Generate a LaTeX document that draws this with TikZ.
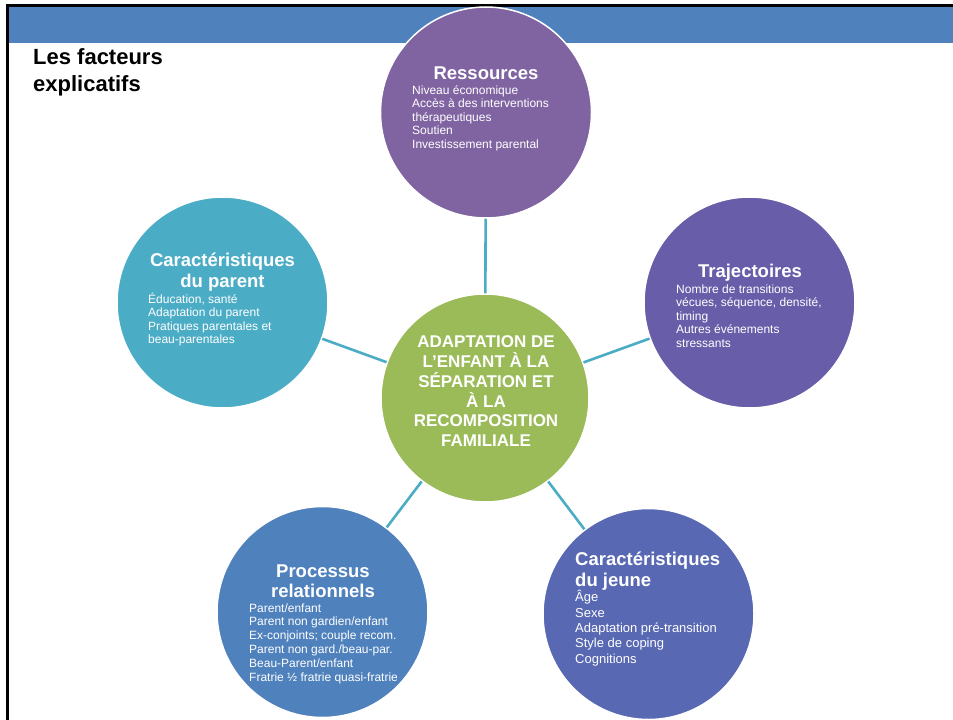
\documentclass[tikz,border=0pt]{standalone}
\usepackage{fontspec}
\setmainfont{Liberation Sans}
\definecolor{barblue}{RGB}{79,129,189}
\definecolor{cres}{RGB}{128,100,162}
\definecolor{cpar}{RGB}{75,172,198}
\definecolor{ctraj}{RGB}{103,93,168}
\definecolor{ccen}{RGB}{155,187,89}
\definecolor{cproc}{RGB}{79,129,189}
\definecolor{cjeu}{RGB}{88,104,178}
\definecolor{clink}{RGB}{75,172,198}
\newcommand\myblockL[2]{\vtop{\baselineskip=#1\relax\halign{##\hfil\cr#2\crcr}}}
\newcommand\myblockC[2]{\vtop{\baselineskip=#1\relax\halign{\hfil##\hfil\cr#2\crcr}}}
\tikzset{
  bubble/.style={circle, draw=white, line width=1.5pt, minimum size=211pt, inner sep=0pt},
  txt/.style={inner sep=0pt, text=white},
  hfont/.style={font=\fontsize{18.5}{21}\selectfont\bfseries},
  bfont/.style={font=\fontsize{12}{13.5}\selectfont},
  link/.style={draw=clink, line width=2.6pt}
}
\begin{document}
\begin{tikzpicture}[x=1pt, y=-1pt]
\useasboundingbox (0,0) rectangle (953,720);
\fill[white] (0,0) rectangle (953,720);
% frame and bar
\fill[barblue] (9,7) rectangle (953,43);
\fill[black] (6,3.5) rectangle (953,7);
\fill[black] (6,3.5) rectangle (9,720);
% title
\node[inner sep=0pt, anchor=base west, font=\fontsize{22}{27}\selectfont\bfseries] (title) at (33,64) {\myblockL{27.7pt}{Les facteurs\cr explicatifs}};
% circles
\node[bubble, fill=cres] (res) at (486,112.5) {};
\node[bubble, fill=cpar] (par) at (222.5,302.5) {};
\node[bubble, fill=ctraj] (traj) at (749.5,302.5) {};
\node[bubble, fill=ccen, minimum size=208pt] (cen) at (485,398) {};
\node[bubble, fill=cproc] (proc) at (322.5,612) {};
\node[bubble, fill=cjeu] (jeu) at (648.5,614) {};
% connectors
\draw[link] (cen) -- (res);
\draw[link] (cen) -- (par);
\draw[link] (cen) -- (traj);
\draw[link] (cen) -- (proc);
\draw[link] (cen) -- (jeu);
% Ressources
\node[txt, hfont, anchor=base] (resh) at (486,79) {Ressources};
\node[txt, bfont, anchor=base west] (resb) at (412,94) {\myblockL{13.5pt}{Niveau économique\cr Accès à des interventions\cr thérapeutiques\cr Soutien\cr Investissement parental}};
% Parent
\node[txt, hfont, anchor=base] (parh) at (222.5,266.7) {\myblockC{20.4pt}{Caractéristiques\cr du parent}};
\node[txt, bfont, anchor=base west] (parb) at (148,303.5) {\myblockL{13.4pt}{Éducation, santé\cr Adaptation du parent\cr Pratiques parentales et\cr beau-parentales}};
% Trajectoires
\node[txt, hfont, anchor=base] (trajh) at (750,277) {Trajectoires};
\node[txt, bfont, anchor=base west] (trajb) at (676,293) {\myblockL{13.5pt}{Nombre de transitions\cr vécues, séquence, densité,\cr timing\cr Autres événements\cr stressants}};
% Centre
\node[txt, font=\fontsize{17}{20}\selectfont\bfseries, anchor=base] (cent) at (486,347.3) {\myblockC{19.9pt}{ADAPTATION DE\cr L’ENFANT À LA\cr SÉPARATION ET\cr À LA\cr RECOMPOSITION\cr FAMILIALE}};
% Processus
\node[txt, hfont, anchor=base] (proch) at (323,577.3) {\myblockC{20pt}{Processus\cr relationnels}};
\node[txt, bfont, anchor=base west] (procb) at (249,612) {\myblockL{13.8pt}{Parent/enfant\cr Parent non gardien/enfant\cr Ex-conjoints; couple recom.\cr Parent non gard./beau-par.\cr Beau-Parent/enfant\cr Fratrie ½ fratrie quasi-fratrie}};
% Jeune
\node[txt, hfont, anchor=base west] (jeuh) at (575,565) {\myblockL{21.7pt}{Caractéristiques\cr du jeune}};
\node[txt, font=\fontsize{13}{15.4}\selectfont, anchor=base west] (jeub) at (575,601.7) {\myblockL{15.4pt}{Âge\cr Sexe\cr Adaptation pré-transition\cr Style de coping\cr Cognitions}};
\end{tikzpicture}
\end{document}
